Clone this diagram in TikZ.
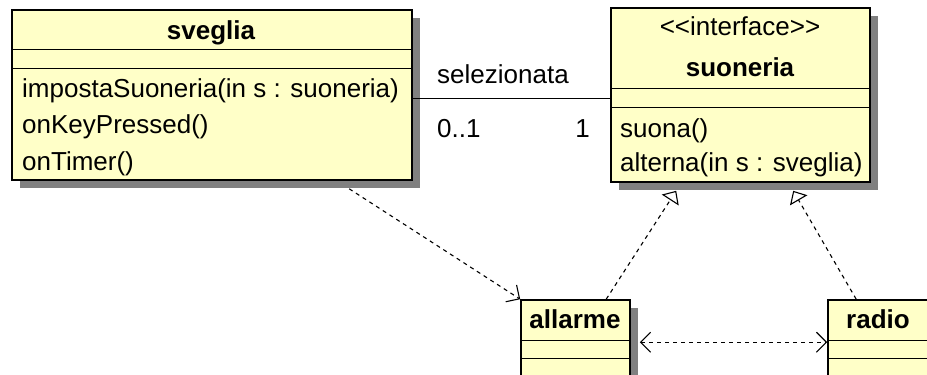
\documentclass[tikz,border=0pt]{standalone}
\usepackage{fontspec}
\setmainfont{Liberation Sans}
\usetikzlibrary{arrows.meta,shadows,calc}
\definecolor{classfill}{RGB}{255,255,200}
\definecolor{shadowgray}{RGB}{128,128,128}
\tikzset{
  classbox/.style={draw=black, line width=1.6pt, fill=classfill, inner sep=0pt,
    general shadow={fill=shadowgray, shadow xshift=8pt, shadow yshift=-8pt}},
  compsep/.style={line width=1.3pt},
  txt/.style={font=\fontsize{26}{30}\selectfont, inner sep=0pt},
  boldtxt/.style={font=\fontsize{26}{30}\selectfont\bfseries, inner sep=0pt},
  assoc/.style={line width=1.3pt},
  dashline/.style={line width=1.1pt, dash pattern=on 4pt off 4pt},
  dep/.style={dashline, -{Straight Barb[length=10pt,width=20pt,line width=1.1pt]}},
  bidep/.style={dashline, {Straight Barb[length=10pt,width=20pt,line width=1.1pt]}-{Straight Barb[length=10pt,width=20pt,line width=1.1pt]}},
  realize/.style={dashline, -{Triangle[open,length=11pt,width=20pt,line width=1.1pt,fill=white]}},
}
\begin{document}
\begin{tikzpicture}[x=1pt,y=-1pt]
\useasboundingbox (0,0) rectangle (927,375);
\clip (0,0) rectangle (927,375);

% class boxes
\node[classbox, minimum width=400pt, minimum height=170pt] (sv) at (212,95) {};
\node[classbox, minimum width=259pt, minimum height=174pt] (su) at (740.5,95) {};
\node[classbox, minimum width=109pt, minimum height=120pt] (al) at (575.5,360) {};
\node[classbox, minimum width=100pt, minimum height=120pt] (ra) at (878,360) {};

% compartments
\draw[compsep] ($(sv.north west)+(0,40)$) -- ($(sv.north east)+(0,40)$);
\draw[compsep] ($(sv.north west)+(0,59)$) -- ($(sv.north east)+(0,59)$);
\draw[compsep] ($(su.north west)+(0,81)$) -- ($(su.north east)+(0,81)$);
\draw[compsep] ($(su.north west)+(0,100)$) -- ($(su.north east)+(0,100)$);
\draw[compsep] ($(al.north west)+(0,41)$) -- ($(al.north east)+(0,41)$);
\draw[compsep] ($(al.north west)+(0,59)$) -- ($(al.north east)+(0,59)$);
\draw[compsep] ($(ra.north west)+(0,41)$) -- ($(ra.north east)+(0,41)$);
\draw[compsep] ($(ra.north west)+(0,59)$) -- ($(ra.north east)+(0,59)$);

% sveglia
\node[boldtxt, anchor=base] (svname) at (211,39) {sveglia};
\node[txt, anchor=base west] (svm1) at (22,97) {impostaSuoneria(in s : suoneria)};
\node[txt, anchor=base west] (svm2) at (22,133) {onKeyPressed()};
\node[txt, anchor=base west] (svm3) at (22,170) {onTimer()};

% suoneria
\node[txt, anchor=base] (suster) at (740,35) {<\kern0pt<interface>\kern0pt>};
\node[boldtxt, anchor=base] (suname) at (740,76) {suoneria};
\node[txt, anchor=base west] (sum1) at (620,137) {suona()};
\node[txt, anchor=base west] (sum2) at (620,171) {alterna(in s : sveglia)};

% allarme and radio
\node[boldtxt, anchor=base] (alname) at (575,328) {allarme};
\node[boldtxt, anchor=base] (raname) at (878,328) {radio};

% association sveglia -- suoneria
\draw[assoc] ([shift={(0,89)}]sv.north east) -- ([shift={(0,91)}]su.north west);
\node[txt, anchor=base west] (rolename) at (437,83) {selezionata};
\node[txt, anchor=base west] (multsv) at (437,137) {0..1};
\node[txt, anchor=base east] (multsu) at (590,137) {1};

% dependencies and realizations
\draw[dep] ([shift={(338,8)}]sv.south west) -- (al.north west);
\draw[realize] ([shift={(86,0)}]al.north west) -- ([shift={(66,8)}]su.south west);
\draw[realize] ([shift={(29,0)}]ra.north west) -- ([shift={(183,8)}]su.south west);
\draw[bidep] ([shift={(9,43)}]al.north east) -- ([shift={(0,43)}]ra.north west);
\end{tikzpicture}
\end{document}
